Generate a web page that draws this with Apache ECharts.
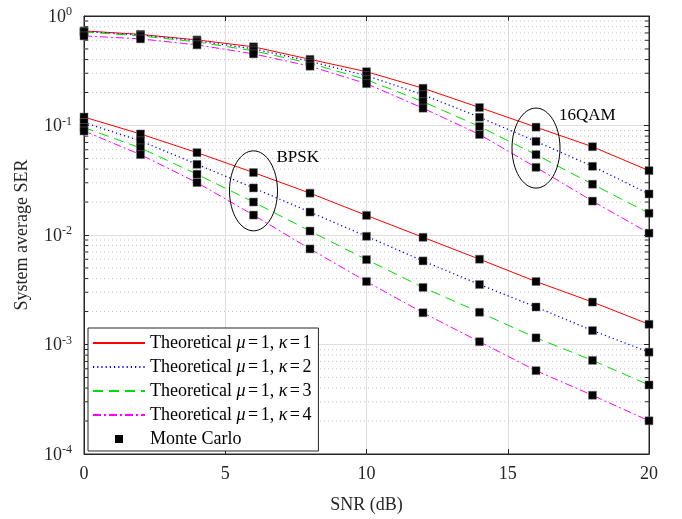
<!DOCTYPE html>
<html>
<head>
<meta charset="utf-8">
<script src="https://cdn.jsdelivr.net/npm/echarts@6/dist/echarts.min.js"></script>
<style>
  html, body { margin: 0; padding: 0; background: #fff; }
  #chart { width: 682px; height: 519px; }
</style>
</head>
<body>
<div id="chart"></div>
<script>
// SNR grid (dB)
const snr = [0, 2, 4, 6, 8, 10, 12, 14, 16, 18, 20];

// BPSK system average SER, mu = 1, kappa = 1..4
const bpskK1 = [0.1195, 0.0837, 0.0565, 0.0372, 0.0241, 0.0151, 0.00953, 0.00601, 0.00376, 0.00244, 0.00153];
const bpskK2 = [0.1065, 0.0723, 0.0442, 0.0269, 0.0162, 0.00973, 0.00580, 0.00353, 0.00220, 0.00134, 0.000851];
const bpskK3 = [0.0959, 0.0624, 0.0359, 0.0200, 0.01087, 0.00596, 0.00332, 0.00197, 0.00115, 0.000716, 0.000427];
const bpskK4 = [0.0891, 0.0542, 0.0301, 0.0152, 0.00746, 0.00376, 0.00195, 0.00106, 0.000577, 0.000344, 0.000201];

// 16QAM system average SER, mu = 1, kappa = 1..4
const qamK1 = [0.731, 0.679, 0.605, 0.523, 0.402, 0.310, 0.219, 0.146, 0.0966, 0.0640, 0.0387];
const qamK2 = [0.723, 0.672, 0.593, 0.501, 0.386, 0.285, 0.191, 0.119, 0.0716, 0.0424, 0.0237];
const qamK3 = [0.716, 0.658, 0.580, 0.481, 0.370, 0.262, 0.165, 0.098, 0.0542, 0.0291, 0.0158];
const qamK4 = [0.658, 0.618, 0.545, 0.451, 0.348, 0.241, 0.144, 0.0828, 0.0415, 0.0204, 0.0104];

const curveNames = [
  'Theoretical μ=1, κ=1',
  'Theoretical μ=1, κ=2',
  'Theoretical μ=1, κ=3',
  'Theoretical μ=1, κ=4'
];
const mcName = 'Monte Carlo';

// Minor (2..9 x 10^k) grid values on the log axis
const minorTicks = [];
[-4, -3, -2, -1].forEach(function (e) {
  [2, 3, 4, 5, 6, 7, 8, 9].forEach(function (m) { minorTicks.push(m * Math.pow(10, e)); });
});

// Ellipse annotations: [snr, SER at ellipse centre, label]
const groupMarks = [
  [6, 0.0253, 'BPSK'],
  [16, 0.0622, '16QAM']
];

const FONT = '"Liberation Serif", "Times New Roman", serif';
const colors = ['#ff0000', '#0000ff', '#00dd00', '#ff00ff'];
const dashes = ['solid', [1.2, 3], [10, 6], [8, 3, 2, 3]];
const widths = [1, 1.3, 1, 1];

const bpsk = [bpskK1, bpskK2, bpskK3, bpskK4];
const qam = [qamK1, qamK2, qamK3, qamK4];

function pairs(vals) { return snr.map(function (x, i) { return [x, vals[i]]; }); }

const series = [];

// dotted minor grid plus short minor ticks on both y edges
series.push({
  type: 'custom',
  name: 'minor',
  silent: true,
  z: 1,
  clip: false,
  data: minorTicks.map(function (v) { return [0, v]; }),
  renderItem: function (params, api) {
    const v = api.value(1);
    const a = api.coord([0, v]);
    const b = api.coord([20, v]);
    return {
      type: 'group',
      children: [
        { type: 'line', shape: { x1: a[0], y1: a[1], x2: b[0], y2: b[1] },
          style: { stroke: '#c4c4c4', lineWidth: 1, lineDash: [1, 3] } },
        { type: 'line', shape: { x1: a[0], y1: a[1], x2: a[0] + 4, y2: a[1] },
          style: { stroke: '#262626', lineWidth: 1 } },
        { type: 'line', shape: { x1: b[0] - 4, y1: b[1], x2: b[0], y2: b[1] },
          style: { stroke: '#262626', lineWidth: 1 } }
      ]
    };
  }
});

[bpsk, qam].forEach(function (set) {
  set.forEach(function (vals, k) {
    series.push({
      type: 'line',
      name: curveNames[k],
      data: pairs(vals),
      symbol: 'none',
      z: 3,
      lineStyle: { color: colors[k], width: widths[k], type: dashes[k] },
      itemStyle: { color: colors[k] },
      animation: false
    });
  });
});

// Monte Carlo points for every curve
const mcData = [];
[bpsk, qam].forEach(function (set) {
  set.forEach(function (vals) { pairs(vals).forEach(function (p) { mcData.push(p); }); });
});
series.push({
  type: 'scatter',
  name: mcName,
  data: mcData,
  symbol: 'rect',
  symbolSize: 8,
  z: 5,
  itemStyle: { color: '#000', borderColor: '#777', borderWidth: 0.5, opacity: 1 },
  animation: false
});

// ellipses around the BPSK and 16QAM bundles
series.push({
  type: 'custom',
  name: 'groups',
  silent: true,
  z: 6,
  clip: false,
  data: groupMarks,
  renderItem: function (params, api) {
    const c = api.coord([api.value(0), api.value(1)]);
    const rx = 24, ry = 40;
    return {
      type: 'group',
      children: [
        { type: 'ellipse', shape: { cx: c[0], cy: c[1], rx: rx, ry: ry },
          style: { fill: 'none', stroke: '#000', lineWidth: 1 } },
        { type: 'text',
          style: { text: groupMarks[params.dataIndex][2], x: c[0] + rx - 1, y: c[1] - ry + 7,
                   verticalAlign: 'middle', align: 'left', fill: '#000', font: '17px ' + FONT } }
      ]
    };
  }
});

const legendRich = {
  r: { fontFamily: FONT, fontSize: 18, color: '#000', lineHeight: 18 },
  i: { fontFamily: FONT, fontSize: 18, fontStyle: 'italic', color: '#000', lineHeight: 18 },
  e: { fontFamily: FONT, fontSize: 18, color: '#000', lineHeight: 18, padding: [0, 2.5, 0, 2.5] }
};

const supRich = {
  b: { fontFamily: FONT, fontSize: 18, color: '#262626', lineHeight: 20, verticalAlign: 'bottom' },
  s: { fontFamily: FONT, fontSize: 12, color: '#262626', lineHeight: 12, verticalAlign: 'top' }
};

const hiddenSymbol = { opacity: 0 };

const option = {
  backgroundColor: '#fff',
  animation: false,
  grid: { left: 84, right: 33, top: 16, bottom: 62, show: true, borderColor: '#262626', borderWidth: 1, backgroundColor: '#fff' },
  legend: {
    orient: 'vertical',
    left: 88,
    top: 328,
    itemWidth: 52,
    itemHeight: 8,
    itemGap: 6,
    padding: [6, 7, 3, 4],
    backgroundColor: '#fff',
    borderColor: '#262626',
    borderWidth: 1,
    borderRadius: 0,
    selectedMode: false,
    data: curveNames.map(function (n) { return { name: n, itemStyle: hiddenSymbol }; })
      .concat([{ name: mcName, icon: 'path://M0,0h8v8h-8z', itemStyle: { color: '#000', borderWidth: 0 } }]),
    formatter: function (name) {
      if (name === mcName) return '{r|' + name + '}';
      const m = name.match(/^Theoretical μ=1, κ=(\d)$/);
      return '{r|Theoretical }{i|μ}{e|=}{r|1, }{i|κ}{e|=}{r|' + m[1] + '}';
    },
    textStyle: { rich: legendRich }
  },
  xAxis: [{
    type: 'value', min: 0, max: 20, interval: 5,
    name: 'SNR (dB)', nameLocation: 'middle', nameGap: 42,
    nameTextStyle: { fontFamily: FONT, fontSize: 18, color: '#262626' },
    axisLine: { show: true, onZero: false, lineStyle: { color: '#262626' } },
    axisTick: { show: true, inside: true, length: 5, lineStyle: { color: '#262626' } },
    axisLabel: { fontFamily: FONT, fontSize: 18, color: '#262626', margin: 11 },
    splitLine: { show: true, lineStyle: { color: '#dfdfdf', width: 1 } }
  }, {
    type: 'value', min: 0, max: 20, interval: 5, position: 'top',
    axisLine: { show: true, onZero: false, lineStyle: { color: '#262626' } },
    axisTick: { show: true, inside: true, length: 5, lineStyle: { color: '#262626' } },
    axisLabel: { show: false },
    splitLine: { show: false }
  }],
  yAxis: [{
    type: 'log', logBase: 10, min: 1e-4, max: 1,
    name: 'System average SER', nameLocation: 'middle', nameGap: 53,
    nameTextStyle: { fontFamily: FONT, fontSize: 18, color: '#262626' },
    axisLine: { show: true, onZero: false, lineStyle: { color: '#262626' } },
    axisTick: { show: true, inside: true, length: 5, lineStyle: { color: '#262626' } },
    axisLabel: {
      margin: 12,
      formatter: function (v) {
        const e = Math.round(Math.log10(v));
        return '{b|10}{s|' + e + '}';
      },
      rich: supRich
    },
    splitLine: { show: true, lineStyle: { color: '#dfdfdf', width: 1 } }
  }, {
    type: 'log', logBase: 10, min: 1e-4, max: 1, position: 'right',
    axisLine: { show: true, onZero: false, lineStyle: { color: '#262626' } },
    axisTick: { show: true, inside: true, length: 5, lineStyle: { color: '#262626' } },
    axisLabel: { show: false },
    splitLine: { show: false }
  }],
  series: series
};

const chart = echarts.init(document.getElementById('chart'), null, { renderer: 'canvas' });
chart.setOption(option);
</script>
</body>
</html>
